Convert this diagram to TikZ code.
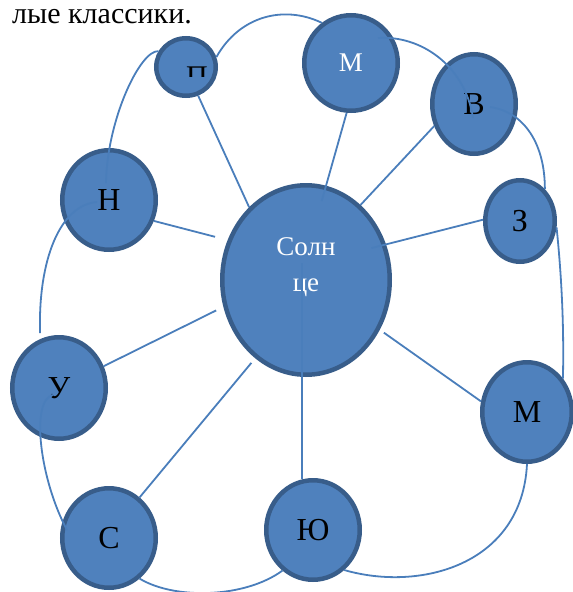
\documentclass[tikz,border=0pt]{standalone}
\usepackage{fontspec}
\setmainfont{Liberation Serif}
\usetikzlibrary{shapes.geometric}
\definecolor{ballfill}{HTML}{4F81BD}
\definecolor{balledge}{HTML}{385D8A}
\definecolor{linkcol}{HTML}{4A7EBB}

\begin{document}
\begin{tikzpicture}[x=1pt,y=-1pt,
  ball/.style={ellipse,draw=balledge,fill=ballfill,line width=4.5pt,inner sep=0pt,
    font=\fontsize{32}{38}\selectfont},
  link/.style={draw=linkcol,line width=1.8pt}]
\useasboundingbox (0,0) rectangle (573,592);
\node[anchor=base east,inner sep=0pt,font=\fontsize{30}{36}\selectfont] (title) at (192,23) {лые классики.};

% sun and planets
\node[ball,minimum width=167.5pt,minimum height=189.5pt] (sun) at (306,280) {};
\node[ball,minimum width=59.5pt,minimum height=57.5pt] (p) at (186,67) {};
\node[ball,minimum width=93.5pt,minimum height=95.5pt,text=white,
  font=\fontsize{27}{32}\selectfont] (mt) at (351,63) {М};
\node[ball,minimum width=83.5pt,minimum height=99.5pt] (v) at (474,104) {В};
\node[ball,minimum width=69.5pt,minimum height=81.5pt] (z) at (520,221) {З};
\node[ball,minimum width=93.5pt,minimum height=99.5pt] (n) at (109,200) {Н};
\node[ball,minimum width=93.5pt,minimum height=101.5pt] (u) at (59,388) {У};
\node[ball,minimum width=93.5pt,minimum height=99.5pt] (s) at (109,538) {С};
\node[ball,minimum width=93.5pt,minimum height=99.5pt] (yu) at (313,530) {Ю};
\node[ball,minimum width=89.5pt,minimum height=99.5pt] (mr) at (527,412) {М};

\node[text=white,font=\fontsize{27}{36}\selectfont,align=center] (suntext)
  at ([yshift=13pt]sun.center) {Солн\\це};
\begin{scope}
\clip (170,55) rectangle (215,76);
\node[anchor=base,font=\fontsize{30}{36}\selectfont] (ptext) at (197,86) {П};
\end{scope}

% rays
\draw[link] (sun.128) -- (p.-67);
\draw[link,shorten <=-16pt] (sun.78) -- (mt.-95);
\draw[link] (sun.54) -- (v.-151);
\draw[link,shorten <=-15pt] (sun.24) -- (z.178);
\draw[link,shorten <=13pt] (sun.153) -- (n.-25);
\draw[link,shorten <=8pt] (sun.-162) -- (u.26);
\draw[link,shorten <=6pt] (sun.-123) -- (s.53);
\coordinate (sunc) at ([yshift=17pt]sun.center);
\draw[link] (sunc -| yu.102) -- (yu.102);
\draw[link,shorten <=5pt] (sun.-34) -- (mr.167);

% orbit
\draw[link] ([shift={(-3,-17)}]n.center) .. controls (107,120) and (140,50) .. (p.150);
\draw[link] (p.18) .. controls (240,15) and (285,5) .. (mt.126);
\draw[link] ([shift={(27,-25)}]mt.center) .. controls (420,35) and (465,65) .. ([shift={(-1,14)}]v.center);
\draw[link] ([shift={(16,3)}]v.center) .. controls (525,112) and (545,145) .. (z.52);
\draw[link] (z.-10) .. controls (562,280) and (564,330) .. (mr.43);
\draw[link] (mr.-90) .. controls (522,565) and (420,592) .. (yu.-52);
\draw[link] (yu.-127) .. controls (245,598) and (175,600) .. (s.-53);
\draw[link] ([shift={(-42,-8)}]s.center) .. controls (40,480) and (30,400) .. ([shift={(-6,7)}]u.center);
\draw[link,shorten <=6pt] (u.111) .. controls (38,260) and (60,205) .. ([shift={(-12,2)}]n.center);
\end{tikzpicture}
\end{document}
